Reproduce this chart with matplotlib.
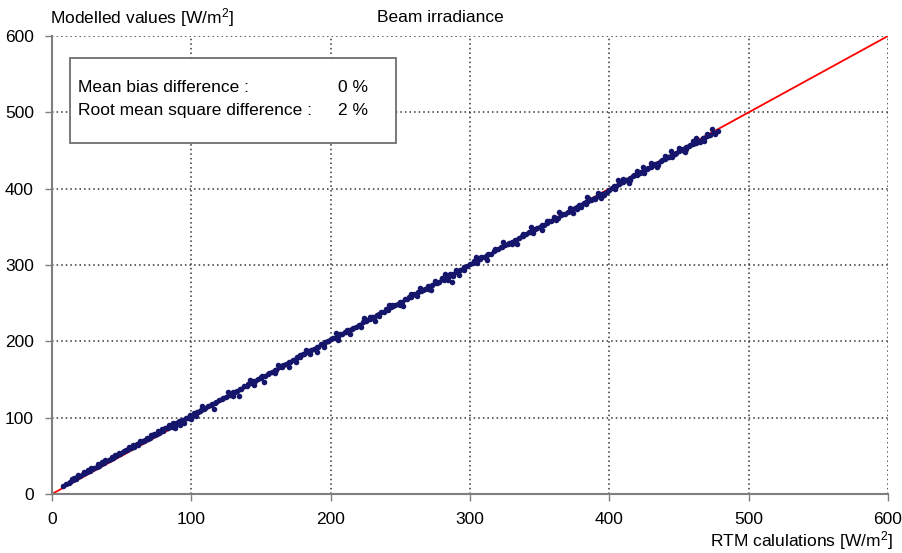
import matplotlib
matplotlib.use("Agg")
from matplotlib import pyplot as plt
from matplotlib.patches import Rectangle

plt.rcParams["font.family"] = ["Liberation Sans", "DejaVu Sans"]
plt.rcParams["mathtext.default"] = "regular"

# RTM calculations (x) vs modelled values (y)
x_rtm = [8, 10, 12, 13, 15, 17, 18, 20, 22, 24, 25, 27, 29, 30, 32, 34, 35, 37, 39, 41,
         42, 44, 46, 47, 49, 51, 52, 54, 56, 57, 59,
         61, 62, 64, 66, 67, 69, 70, 72, 74, 75, 77, 78, 80, 82, 83, 85, 86, 88, 90, 91,
         93, 94, 96, 98, 99, 101, 102, 104, 106, 107, 109, 110, 112, 114, 115, 117, 118, 120,
         88, 92, 95, 97, 100, 103, 105, 93, 89,
         122, 123, 125, 127, 128, 130, 131, 133, 135, 136, 138, 140, 141, 143, 145, 146, 148,
         150, 151, 153, 155, 156, 158, 160, 161, 163, 165, 166, 168, 170, 171, 173, 175, 176,
         178, 180, 181, 183, 185, 186, 188, 190, 191, 193, 195, 196, 198, 200,
         130, 145, 160, 175, 185, 195, 150, 165, 178, 198,
         202, 203, 205, 207, 208, 210, 211, 213, 215, 216, 218, 220, 221, 223, 225, 226, 228,
         230, 231, 233, 235, 236, 238, 240, 241, 243, 245, 246, 248, 250, 251, 253, 255, 256,
         258, 260, 261, 263, 265, 266, 268, 270, 271, 273, 275, 276, 278, 280, 281, 283, 285,
         286, 288, 290, 291, 293, 295, 296, 298, 300,
         205, 212, 222, 228, 235, 244, 250, 258, 262, 270, 275, 284, 290, 296, 280, 288, 287,
         302, 303, 305, 307, 308, 310, 312, 313, 315, 317, 318, 320, 322, 323, 325, 327, 328,
         330, 332, 333, 335, 337, 338, 340, 342, 343, 345, 347, 348, 350, 352, 353, 355, 357,
         358, 360, 362, 363, 365, 367, 368, 370, 372, 373, 375, 377, 378, 380, 382, 383, 385,
         387, 388, 390, 392, 393, 395, 397, 398, 400,
         305, 318, 330, 338, 345, 355, 362, 372, 377, 385, 390, 396, 392, 360, 380, 383,
         402, 403, 405, 407, 408, 410, 412, 413, 415, 417, 418, 420, 422, 423, 425, 427, 428,
         430, 432, 433, 435, 437, 438, 440, 442, 443, 445, 447, 448, 450, 452, 453, 455, 457,
         458, 460, 462, 463, 465, 467, 468, 470, 472, 475, 478,
         404, 410, 415, 420, 425, 430, 435, 440, 445, 450, 455, 460, 465, 470,
         14, 16, 19, 23, 26, 28, 33, 36, 38, 43, 45, 48, 53, 55, 58, 63, 65, 68, 71, 73,
         76, 79, 81, 84, 87,
         108, 116, 126, 134, 142, 152, 162, 170, 182, 190, 204, 214, 224, 232, 242, 252,
         264, 272, 282, 292, 304, 312, 324, 334, 344, 352, 364, 374, 384, 394, 406, 414,
         424, 434, 444, 454, 462, 468, 474, 476]
y_model = [11, 13, 15, 16, 18, 20, 22, 23, 26, 27, 29, 30, 33, 34, 36, 37, 39, 40, 43, 44,
           46, 47, 50, 51, 52, 55, 56, 57, 60, 60, 62,
           65, 64, 68, 69, 71, 72, 74, 76, 77, 79, 80, 82, 83, 86, 86, 89, 88, 91, 92, 95,
           96, 97, 100, 100, 103, 104, 106, 107, 109, 110, 111, 113, 115, 116, 118, 119, 121, 123,
           86, 90, 93, 99, 98, 102, 107, 97, 93,
           124, 126, 127, 130, 130, 133, 134, 135, 138, 138, 141, 142, 144, 145, 148, 148, 151,
           152, 154, 155, 157, 159, 160, 163, 163, 166, 167, 169, 170, 173, 173, 176, 177, 179,
           180, 183, 183, 186, 187, 189, 190, 193, 193, 196, 197, 199, 200, 203,
           128, 143, 158, 173, 183, 192, 153, 168, 182, 201,
           204, 205, 206, 209, 209, 212, 212, 215, 216, 218, 219, 222, 222, 225, 226, 228, 229,
           232, 232, 234, 236, 238, 238, 242, 241, 245, 246, 247, 249, 252, 251, 255, 255, 258,
           258, 262, 261, 264, 266, 267, 268, 272, 271, 274, 276, 277, 278, 282, 281, 284, 285,
           288, 288, 291, 292, 294, 295, 297, 299, 301,
           202, 215, 219, 232, 233, 248, 247, 262, 259, 268, 279, 281, 294, 293, 283, 285, 278,
           303, 305, 305, 308, 310, 311, 313, 314, 315, 318, 319, 321, 323, 323, 326, 327, 329,
           330, 333, 333, 335, 338, 338, 340, 343, 343, 345, 347, 349, 350, 353, 352, 355, 357,
           358, 360, 362, 362, 365, 367, 367, 370, 371, 372, 375, 376, 378, 379, 381, 382, 384,
           385, 387, 388, 390, 391, 393, 394, 396, 398,
           302, 321, 327, 341, 342, 358, 359, 375, 374, 388, 386, 392, 394, 363, 376, 380,
           401, 403, 404, 406, 408, 409, 411, 412, 414, 416, 418, 418, 421, 422, 424, 426, 427,
           429, 431, 432, 433, 436, 437, 439, 441, 441, 444, 446, 447, 449, 451, 452, 454, 456,
           457, 459, 460, 462, 463, 466, 467, 469, 470, 473, 476,
           400, 413, 411, 423, 421, 433, 431, 443, 442, 453, 452, 463, 461, 472,
           20, 21, 25, 29, 32, 34, 39, 42, 44, 49, 51, 54, 58, 61, 64, 69, 70, 74, 77, 78,
           82, 85, 87, 90, 93,
           115, 111, 133, 129, 149, 147, 169, 166, 188, 186, 211, 209, 230, 227, 248, 246,
           270, 267, 288, 287, 310, 306, 330, 328, 350, 346, 370, 368, 389, 388, 411, 408,
           429, 428, 449, 448, 467, 463, 478, 471]

ticks = [0, 100, 200, 300, 400, 500, 600]

fig = plt.figure(figsize=(9.03, 5.53), dpi=100)
ax = fig.add_axes([52 / 903, 1 - 494 / 553, 836 / 903, 458 / 553])

ax.plot([0, 600], [0, 600], color="red", lw=1.3, zorder=2)
ax.scatter(x_rtm, y_model, s=16, marker="o", color="#15156b", linewidths=0, zorder=3)

ax.set_xlim(0, 600)
ax.set_ylim(0, 600)
ax.set_xticks(ticks)
ax.set_yticks(ticks)
ax.grid(True, color="#333333", linestyle=(0, (1, 2)), linewidth=1.1)
ax.set_axisbelow(True)

for s in ["top", "right"]:
    ax.spines[s].set_visible(False)
for s in ["left", "bottom"]:
    ax.spines[s].set_color("#7f7f7f")
    ax.spines[s].set_linewidth(1.5)
ax.tick_params(direction="out", length=5, width=1, color="#7f7f7f", labelsize=12.5, pad=8)

# stats box
ax.add_patch(Rectangle((13, 460), 234, 111, facecolor="white", edgecolor="#6e6e6e",
                       lw=1.3, zorder=4))
ax.text(19, 532, "Mean bias difference :", fontsize=12.5, va="center", zorder=5)
ax.text(19, 502, "Root mean square difference :", fontsize=12.5, va="center", zorder=5)
ax.text(205, 532, "0 %", fontsize=12.5, va="center", zorder=5)
ax.text(205, 502, "2 %", fontsize=12.5, va="center", zorder=5)

fig.text(50 / 903, 1 - 18 / 553, "Modelled values [W/m$^2$]", fontsize=12.5, va="center")
fig.text(377 / 903, 1 - 18 / 553, "Beam irradiance", fontsize=12.5, va="center")
fig.text(893 / 903, 1 - 541 / 553, "RTM calulations [W/m$^2$]", fontsize=12.5,
         va="center", ha="right")

plt.savefig("out.png", dpi=100)
